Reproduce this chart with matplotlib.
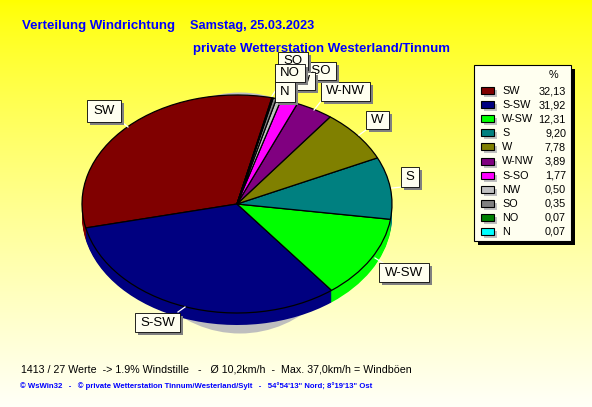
import numpy as np
import matplotlib
matplotlib.use('Agg')
import matplotlib.pyplot as plt
from matplotlib.patches import Rectangle, Ellipse

plt.rcParams['font.family'] = ['Liberation Sans', 'DejaVu Sans']

# Data of the chart
directions = ['SW', 'S-SW', 'W-SW', 'S', 'W', 'W-NW', 'S-SO', 'NW', 'SO', 'NO', 'N']
percents = [32.13, 31.92, 12.31, 9.20, 7.78, 3.89, 1.77, 0.50, 0.35, 0.07, 0.07]
colors = ['#800000', '#000080', '#00FF00', '#008080', '#808000', '#800080',
          '#FF00FF', '#C0C0C0', '#808080', '#008000', '#00FFFF']

W, H = 592, 407
CX, CY, RX, RY = 237, 204, 155, 109
DEPTH = 12
START = 77

fig = plt.figure(figsize=(W / 100, H / 100), dpi=100)

# Background gradient
bg = fig.add_axes([0, 0, 1, 1], zorder=0)
grad = np.linspace(0, 1, 256).reshape(-1, 1) ** 0.8
rgb = np.dstack([np.ones_like(grad), np.ones_like(grad), grad * 0.97])
bg.imshow(rgb, aspect='auto', extent=(0, 1, 0, 1))
bg.axis('off')

# Pie axes: one unit is RX pixels across and RY pixels up
ax = fig.add_axes([0, 0, 1, 1], zorder=1)
ax.patch.set_alpha(0)
ax.add_patch(Ellipse((3 / RX, -9 / RY), 2 * 115 / RX, 2 * 120.5 / RY, fc='#BEBEBE', ec='none'))
for d in range(DEPTH, 0, -1):
    ax.pie(percents, colors=colors, startangle=START, counterclock=True,
           center=(0, -d / RY), wedgeprops={'linewidth': 0})
ax.pie(percents, colors=colors, startangle=START, counterclock=True,
       wedgeprops={'linewidth': 0.9, 'edgecolor': 'black'})
ax.set_aspect('auto')
ax.set_xlim(-CX / RX, (W - CX) / RX)
ax.set_ylim(-(H - CY) / RY, CY / RY)
ax.axis('off')

# Overlay in pixel coordinates, y going down
ov = fig.add_axes([0, 0, 1, 1], zorder=2)
ov.set_xlim(0, W)
ov.set_ylim(H, 0)
ov.axis('off')
ov.patch.set_alpha(0)

ov.text(22, 26, 'Verteilung Windrichtung', color='#0000FF',
        fontsize=9.5, fontweight='bold', va='center')
ov.text(190, 26, 'Samstag, 25.03.2023', color='#0000FF',
        fontsize=9.2, fontweight='bold', va='center')
ov.text(193, 49, 'private Wetterstation Westerland/Tinnum', color='#0000FF',
        fontsize=9.55, fontweight='bold', va='center')
ov.text(21, 369, '1413 / 27 Werte  -> 1.9% Windstille   -   Ø 10,2km/h  -  Max. 37,0km/h = Windböen',
        color='black', fontsize=7.66, va='center')
ov.text(20, 386, '© WsWin32   -   © private Wetterstation Tinnum/Westerland/Sylt   -   54°54\'13" Nord; 8°19\'13" Ost',
        color='#0000FF', fontsize=5.6, fontweight='bold', va='center')

# Leader lines and pie labels, back to front
leaders = [(123, 123, 128, 127), (178, 312, 185, 307), (375, 258, 383, 263), (392, 188, 402, 187),
           (359, 135, 366, 130), (314, 110, 322, 100), (272, 96, 276, 90)]
for x0, y0, x1, y1 in leaders:
    ov.plot([x0, x1], [y0, y1], color='white', lw=0.9, zorder=3)

boxes = {'SW': (87, 100, 34, 22), 'S-SW': (135, 313, 45, 19), 'W-SW': (379, 263, 50, 19),
         'S': (401, 167, 18, 20), 'W': (366, 111, 23, 18), 'W-NW': (321, 82, 49, 19),
         'S-SO': (293, 62, 43, 18), 'NW': (285, 72, 30, 18), 'SO': (278, 52, 30, 18),
         'NO': (275, 64, 30, 18), 'N': (275, 82, 20, 20)}
for i, name in enumerate(directions):
    x, y, w, h = boxes[name]
    z = 4 + i
    ov.add_patch(Rectangle((x + 3, y + 3), w, h, fc='#808080', ec='none', zorder=z))
    ov.add_patch(Rectangle((x, y), w, h, fc='#FFFFF0', ec='black', lw=0.6, zorder=z))
    ov.text(x + w / 2, y + h / 2, name, fontsize=9.5, ha='center', va='center', zorder=z)

# Legend box
lx, ly, lw, lh = 474, 65, 97, 176
ov.add_patch(Rectangle((lx + 4, ly + 4), lw, lh, fc='black', ec='none', zorder=20))
ov.add_patch(Rectangle((lx, ly), lw, lh, fc='#FFFFF0', ec='black', lw=0.8, zorder=21))
ov.text(553, 75, '%', fontsize=7.8, ha='center', va='center', zorder=22)
for i, (name, val, col) in enumerate(zip(directions, percents, colors)):
    y = 91 + i * 14.1
    ov.add_patch(Rectangle((484, y - 1), 13, 7, fc='#C0C0C0', ec='none', zorder=22))
    ov.add_patch(Rectangle((481, y - 4), 13, 7, fc=col, ec='black', lw=0.8, zorder=23))
    ov.text(502, y, name, fontsize=7.8, va='center', zorder=23)
    ov.text(566, y, f'{val:.2f}'.replace('.', ','), fontsize=7.8, ha='right', va='center', zorder=23)

fig.savefig('out.png', dpi=100)
